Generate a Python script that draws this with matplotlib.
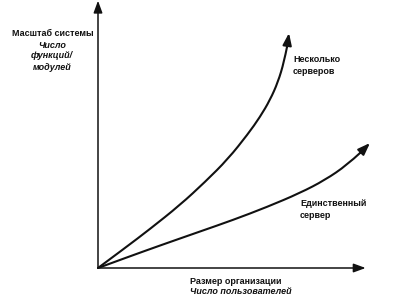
import matplotlib
matplotlib.use("Agg")
import matplotlib.pyplot as plt
from matplotlib.path import Path
from matplotlib.patches import PathPatch

# Curve data (organisation size vs. system scale, arbitrary units 0..100)
multi_x = [0, 10.19, 19.62, 30.94, 40.38, 49.06, 56.60, 61.13, 64.91, 67.92, 70.19, 71.32, 72.08]
multi_y = [0, 7.52, 14.66, 23.68, 32.33, 40.98, 50.38, 56.77, 63.16, 69.92, 77.44, 83.08, 88.35]
single_x = [0, 11.32, 23.40, 38.49, 50.94, 63.77, 76.23, 85.66, 93.96, 98.87, 102.64]
single_y = [0, 4.14, 8.46, 13.72, 18.05, 22.93, 28.20, 33.08, 38.72, 43.23, 46.99]

y_label = ["Масштаб системы", "Число", "функций/", "модулей"]
x_label = ["Размер организации", "Число пользователей"]
multi_label = ["Несколько", "серверов"]
single_label = ["Единственный", "сервер"]

plt.rcParams['font.family'] = ['Liberation Sans', 'DejaVu Sans']

fig = plt.figure(figsize=(4.0, 3.03), dpi=100)
W, H = 400, 303
ox, oy = 98, 268
ax = fig.add_axes([ox / W, (H - oy) / H, 265 / W, 266 / H])
ax.set_xlim(0, 100)
ax.set_ylim(0, 100)
ax.axis('off')

col = '#111111'
lw = 1.5
head = '-|>,head_length=0.6,head_width=0.22'

# axes arrows
ax.annotate('', xy=(0, 100.5), xytext=(0, 0), annotation_clip=False,
            arrowprops=dict(arrowstyle=head, color=col, lw=1.1,
                            mutation_scale=12, shrinkA=0, shrinkB=0))
ax.annotate('', xy=(101, 0), xytext=(0, 0), annotation_clip=False,
            arrowprops=dict(arrowstyle=head, color=col, lw=1.1,
                            mutation_scale=12, shrinkA=0, shrinkB=0))


def smooth_path(xs, ys):
    pts = list(zip(xs, ys))
    verts = [pts[0]]
    codes = [Path.MOVETO]
    n = len(pts)
    for i in range(1, n - 2):
        mid = ((pts[i][0] + pts[i + 1][0]) / 2, (pts[i][1] + pts[i + 1][1]) / 2)
        verts += [pts[i], mid]
        codes += [Path.CURVE3, Path.CURVE3]
    verts += [pts[n - 2], pts[n - 1]]
    codes += [Path.CURVE3, Path.CURVE3]
    return Path(verts, codes)


for xs, ys in [(multi_x, multi_y), (single_x, single_y)]:
    patch = PathPatch(smooth_path(xs[:-1], ys[:-1]), fill=False, edgecolor=col,
                      lw=lw, clip_on=False, capstyle='round', joinstyle='round')
    ax.add_patch(patch)
    ax.annotate('', xy=(xs[-1], ys[-1]), xytext=(xs[-2], ys[-2]),
                annotation_clip=False,
                arrowprops=dict(arrowstyle=head, color=col, lw=lw,
                                mutation_scale=12, shrinkA=0, shrinkB=0))

fs = 6.5
def px(x, y):
    return x / W, 1 - y / H

# y-axis label
ys_ = [33, 45, 56, 67]
for i, (t, yy) in enumerate(zip(y_label, ys_)):
    fig.text(*px(52.5 if i == 0 else 52, yy), t, ha='center', va='center',
             fontsize=fs, fontweight='bold', style='normal' if i == 0 else 'italic',
             color=col)

for t, yy in zip(multi_label, [59, 71]):
    fig.text(*px(293, yy), t, ha='left', va='center', fontsize=fs,
             fontweight='bold', color=col)
for t, yy in zip(single_label, [204, 215]):
    fig.text(*px(300, yy), t, ha='left', va='center', fontsize=fs,
             fontweight='bold', color=col)

for i, (t, yy) in enumerate(zip(x_label, [281, 292])):
    fig.text(*px(190, yy), t, ha='left', va='center', fontsize=fs,
             fontweight='bold', style='normal' if i == 0 else 'italic', color=col)

fig.savefig('out.png', dpi=100, facecolor='white')
